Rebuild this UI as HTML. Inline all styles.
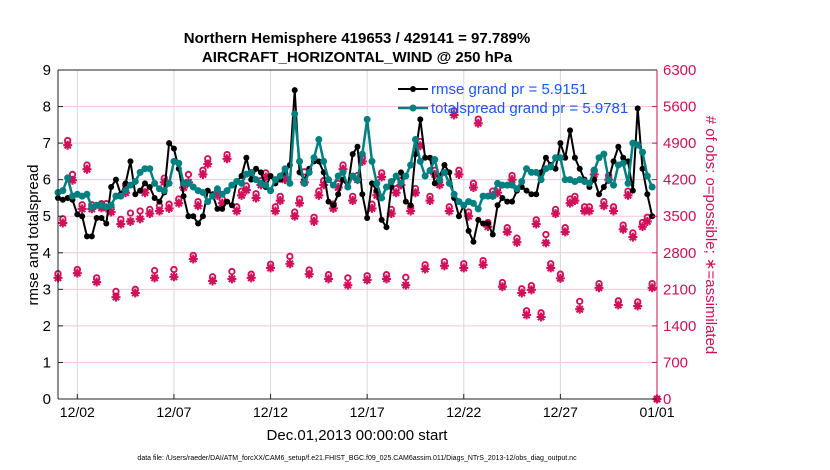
<!DOCTYPE html>
<html><head><meta charset="utf-8"><style>
body{margin:0;background:#fff;}
svg{display:block;font-family:"Liberation Sans",sans-serif;}
</style></head><body>
<svg id="chart" width="830" height="470" xmlns="http://www.w3.org/2000/svg">
<g id="grid"></g>
<g id="series"></g>
<g id="axes"></g>
<text x="357" y="43" text-anchor="middle" font-size="15" font-weight="bold">Northern Hemisphere 419653 / 429141 = 97.789%</text>
<text x="357" y="62" text-anchor="middle" font-size="15" font-weight="bold">AIRCRAFT_HORIZONTAL_WIND @ 250 hPa</text>
<text transform="translate(38,235) rotate(-90)" text-anchor="middle" font-size="15">rmse and totalspread</text>
<text transform="translate(706,235) rotate(90)" text-anchor="middle" font-size="15" fill="#cc1155"># of obs: o=possible; ∗=assimilated</text>
<text x="357" y="440" text-anchor="middle" font-size="15">Dec.01,2013 00:00:00 start</text>
<text x="357" y="460" text-anchor="middle" font-size="7">data file: /Users/raeder/DAI/ATM_forcXX/CAM6_setup/f.e21.FHIST_BGC.f09_025.CAM6assim.011/Diags_NTrS_2013-12/obs_diag_output.nc</text>
<g>
<g>
<line x1="398" y1="89" x2="428" y2="89" stroke="#000" stroke-width="2"/><circle cx="413" cy="89" r="3" fill="#000"/>
<text x="431" y="94" font-size="15" fill="#1a56ff">rmse grand pr = 5.9151</text></g>
<g>
<line x1="398" y1="108" x2="428" y2="108" stroke="#008080" stroke-width="2.5"/><circle cx="413" cy="108" r="3.5" fill="#008080"/>
<text x="431" y="113" font-size="15" fill="#1a56ff">totalspread grand pr = 5.9781</text></g>
</g>
</svg>
<script>
const xTickLabels=["12/02","12/07","12/12","12/17","12/22","12/27","01/01"];
const xTickDays=[1,6,11,16,21,26,31];
const yTicks=[0,1,2,3,4,5,6,7,8,9];
const y2Ticks=[0,700,1400,2100,2800,3500,4200,4900,5600,6300];
const rmse=[5.5,5.45,5.5,5.45, 5.05,5.0,4.45,4.45, 4.95,4.95,4.8,5.8, 6.0,5.6,5.9,6.5, 5.6,5.7,5.9,5.8, 5.5,5.4,5.65,7.0, 6.85,6.3,5.55,5.0, 5.0,4.8,5.0,5.7, 5.6,5.2,5.2,5.4, 5.3,5.95,6.1,6.6, 6.0,6.3,6.2,5.8,
6.1,5.9,6.0,6.2, 6.4,8.45,6.2,6.0, 6.3,6.5,6.5,6.2, 5.4,5.3,5.6,6.0, 5.8,6.7,6.9,5.6, 4.95,5.9,5.7,4.9, 4.7,5.8,6.1,6.2, 5.4,5.3,6.7,7.65, 6.6,6.6,5.9,6.1, 6.4,6.2,5.5,5.0,
5.3,4.6,4.3,4.9, 4.8,4.8,4.5,5.3, 5.5,5.4,5.4,5.7, 5.8,5.7,5.6,5.6, 6.2,6.6,6.4,6.3, 7.0,6.6,7.35,6.6, 6.3,6.0,5.8,6.0, 5.6,5.8,6.0,6.5, 6.9,6.6,6.5,5.7, 7.95,6.3,5.6,5.0];
const spread=[5.65,5.7,6.05,5.55, 5.6,5.55,5.6,5.25, 5.3,5.3,5.25,5.3, 5.55,5.55,5.7,5.85, 5.95,6.2,6.3,6.3, 5.9,5.75,5.7,5.9, 6.5,6.45,5.9,5.9, 5.8,5.7,5.65,5.4, 5.55,5.75,5.6,5.7, 5.85,5.95,5.9,6.15, 6.2,6.0,5.9,5.85,
5.7,6.0,6.1,6.3, 5.9,7.8,6.5,5.9, 6.2,6.6,7.1,6.5, 6.0,5.85,6.1,6.2, 5.8,6.1,6.0,6.7, 7.65,6.5,5.9,5.5, 5.8,5.95,6.1,5.9, 6.1,6.4,7.1,6.5, 6.1,6.25,6.55,6.0, 6.2,5.9,5.6,5.4,
5.3,5.4,5.35,5.2, 5.55,5.55,5.55,5.9, 5.85,5.85,5.85,5.75, 5.95,6.3,6.2,6.2, 6.0,6.3,6.35,6.6, 6.6,6.0,6.0,5.95, 6.0,5.95,5.9,6.25, 6.6,6.7,6.0,5.85, 6.4,6.45,5.9,7.0, 6.95,6.75,6.1,5.8];
const obsAssim=[2320,3370,4860,4190, 2410,3640,4400,3640, 2240,3660,3660,3580, 1950,3350,3950,3400, 2030,3450,3950,3550, 2320,3600,4150,3650, 2340,3750,4050,4150, 2680,3700,4300,4500, 2260,3900,3750,4600, 2300,3600,3900,4000, 2320,3850,4100,4250,
2510,3600,3800,4200, 2590,3500,3750,4150, 2390,3400,3900,4100, 2300,3650,4050,4400, 2180,3800,4200,4550, 2280,3650,3900,4250, 2300,3550,3950,4100, 2180,3600,3950,4850, 2490,3800,4300,4100, 2550,3600,5440,4300,
2510,3500,4050,5280, 2570,3300,3900,3950, 2150,3200,4200,3000, 2030,1610,2090,3350, 1570,2990,2510,3550, 2310,3200,3750,3800, 1720,3600,3600,4300, 2130,3700,4200,3600, 1800,3250,3900,3100, 1780,3300,3400,2130, 0];
const obsPoss=[2400,3450,4950,4300, 2480,3720,4480,3720, 2320,3740,3740,3660, 2060,3440,4100,3560, 2100,3600,4050,3630, 2460,3700,4230,3730, 2480,3830,4130,4300, 2750,3780,4380,4600, 2340,3980,3830,4680, 2440,3680,3980,4080, 2390,3930,4180,4330,
2580,3680,3880,4300, 2730,3580,3830,4350, 2470,3480,3980,4180, 2380,3730,4130,4480, 2320,3880,4280,4630, 2360,3730,3980,4330, 2380,3630,4030,4180, 2330,3680,4030,4930, 2570,3880,4380,4180, 2630,3680,5520,4380,
2590,3580,4130,5360, 2650,3380,3980,4030, 2230,3280,4280,3080, 2110,1690,2170,3430, 1650,3150,2590,3630, 2390,3280,3830,3880, 1870,3680,3680,4380, 2210,3780,4280,3680, 1880,3330,3980,3180, 1860,3380,3480,2210, 0];

const L=58,R=657,T=70,B=399,NS="http://www.w3.org/2000/svg";
const xs=i=>L+(i/4)*(R-L)/31;
const xd=d=>L+d*(R-L)/31;
const yL=v=>B-v*(B-T)/9;
const yR=v=>B-v*(B-T)/6300;
function mk(tag,attrs,parent){const e=document.createElementNS(NS,tag);for(const k in attrs)e.setAttribute(k,attrs[k]);parent.appendChild(e);return e;}
const grid=document.getElementById('grid'),ser=document.getElementById('series'),ax=document.getElementById('axes');
yTicks.forEach((t,k)=>{if(k>0&&k<yTicks.length-1){const g=mk('line',{x1:L,x2:R,y1:yL(t),y2:yL(t),stroke:'#f3c6d8','stroke-width':1},grid);

}});
xTickDays.forEach((d,k)=>{if(k<xTickDays.length-1){const g=mk('line',{x1:xd(d),x2:xd(d),y1:T,y2:B,stroke:'#d8d8d8','stroke-width':1},grid);

}
const t=mk('text',{x:xd(d),y:417,'text-anchor':'middle','font-size':14},ax);t.textContent=xTickLabels[k];


mk('line',{x1:xd(d),x2:xd(d),y1:B,y2:B-5,stroke:'#222'},ax);});
yTicks.forEach(t=>{const e=mk('text',{x:51,y:yL(t)+5,'text-anchor':'end','font-size':15},ax);e.textContent=t;


mk('line',{x1:L,x2:L+5,y1:yL(t),y2:yL(t),stroke:'#222'},ax);});
y2Ticks.forEach(t=>{const e=mk('text',{x:663,y:yR(t)+5,'font-size':15,fill:'#cc1155'},ax);e.textContent=t;


mk('line',{x1:R-5,x2:R,y1:yR(t),y2:yR(t),stroke:'#cc1155'},ax);});
const ln1=mk('line',{x1:L,x2:L,y1:T,y2:B,stroke:'#222','stroke-width':1},ax);


mk('line',{x1:L,x2:R,y1:B,y2:B,stroke:'#222'},ax);
mk('line',{x1:L,x2:R,y1:T,y2:T,stroke:'#222'},ax);
const ln2=mk('line',{x1:R,x2:R,y1:T,y2:B,stroke:'#cc1155','stroke-width':1},ax);


obsPoss.forEach((v,i)=>{const c=mk('circle',{cx:xs(i),cy:yR(v),r:2.7,fill:'none',stroke:'#d0105a','stroke-width':1.9},ser);

});
obsAssim.forEach((v,i)=>{const x=xs(i),y=yR(v),s=4.5;
const p=mk('path',{d:`M${x-s},${y}H${x+s}M${x},${y-s}V${y+s}M${x-s*.7},${y-s*.7}L${x+s*.7},${y+s*.7}M${x-s*.7},${y+s*.7}L${x+s*.7},${y-s*.7}`,stroke:'#d0105a','stroke-width':2.1,fill:'none'},ser);

});
function series(arr,col,w,r,name){
const pl=mk('polyline',{points:arr.map((v,i)=>xs(i)+','+yL(v)).join(' '),fill:'none',stroke:col,'stroke-width':w,'stroke-linejoin':'round'},ser);


arr.forEach((v,i)=>{const c=mk('circle',{cx:xs(i),cy:yL(v),r:r,fill:col},ser);

});}
series(rmse,'#000',2,3,'rmse');
series(spread,'#008080',2.5,3.5,'totalspread');
</script>
</body></html>
